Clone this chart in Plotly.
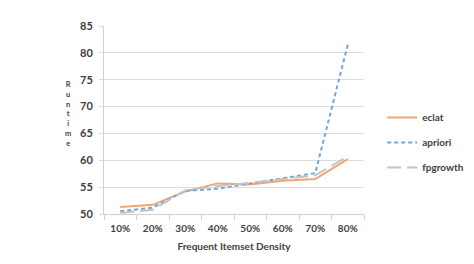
import plotly.graph_objects as go

categories = ["10%", "20%", "30%", "40%", "50%", "60%", "70%", "80%"]
eclat = [51.3, 51.7, 54.2, 55.7, 55.5, 56.2, 56.5, 60.2]
apriori = [50.5, 51.2, 54.3, 54.7, 55.7, 56.7, 57.6, 81.5]
fpgrowth = [50.2, 50.8, 54.4, 55.2, 55.8, 56.5, 57.2, 60.7]
y_ticks = [50, 55, 60, 65, 70, 75, 80, 85]
y_title = "Runtime"

FONT = "Lato"
TXT = "#404040"

fig = go.Figure()
fig.add_trace(go.Scatter(x=categories, y=eclat, name="eclat", mode="lines", legendgroup="a",
                         line=dict(color="#F4A46E", width=2)))
fig.add_trace(go.Scatter(x=categories, y=apriori, name="apriori", mode="lines", legendgroup="b",
                         line=dict(color="#6FA8DC", width=2, dash="4px,3px")))
fig.add_trace(go.Scatter(x=categories, y=fpgrowth, name="fpgrowth", mode="lines", legendgroup="c",
                         line=dict(color="#C4C4C4", width=2, dash="14px,6px")))

# vertical stacked y-axis title
fig.add_annotation(text="<br>".join(y_title), xref="paper", yref="paper",
                   x=-0.14, y=0.53, showarrow=False,
                   xanchor="center", yanchor="middle", align="center",
                   font=dict(family=FONT, size=7.5, color=TXT, weight="bold"))

fig.update_layout(
    width=474, height=264,
    margin=dict(l=104, r=110, t=26, b=50, autoexpand=False),
    paper_bgcolor="white", plot_bgcolor="white",
    font=dict(family=FONT, size=10, color=TXT),
    showlegend=True,
    legend=dict(x=1.07, y=0.38, xanchor="left", yanchor="middle",
                font=dict(family=FONT, size=10, color=TXT, weight="bold"),
                tracegroupgap=6, itemwidth=30),
    xaxis=dict(
        type="category", range=[-0.5, 7.5], tickson="boundaries",
        ticks="outside", ticklen=5, tickcolor="#D0D0D0",
        showline=True, linecolor="#D0D0D0", linewidth=1,
        showgrid=False, zeroline=False, ticklabelstandoff=5,
        tickfont=dict(family=FONT, size=10, color=TXT, weight="bold"),
        title=dict(text="Frequent Itemset Density", standoff=9,
                   font=dict(family=FONT, size=10, color=TXT, weight="bold")),
    ),
    yaxis=dict(
        range=[50, 85], tickvals=y_ticks, ticks="outside", ticklen=4,
        tickcolor="#D9D9D9", showline=True, linecolor="#D0D0D0", linewidth=1,
        showgrid=True, gridcolor="#DDDDDD", gridwidth=1, zeroline=False,
        ticklabelstandoff=4,
        tickfont=dict(family=FONT, size=11, color=TXT, weight="bold"),
    ),
)

fig.write_html("out.html")
